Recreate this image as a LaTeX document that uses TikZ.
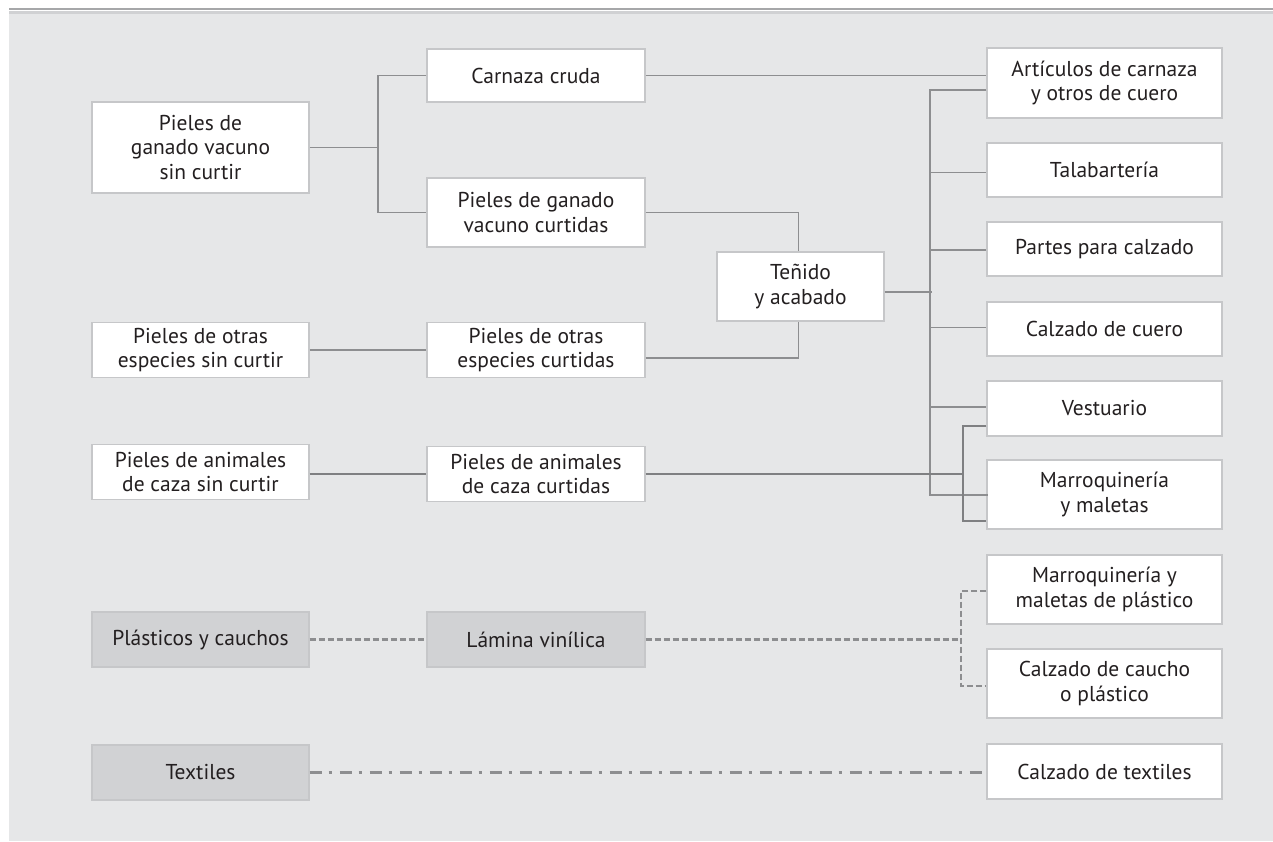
\documentclass[tikz,border=0pt]{standalone}
\usepackage{fontspec}
\setmainfont{PT Sans}
\definecolor{bgc}{HTML}{E6E7E8}
\definecolor{bordc}{HTML}{C6C7C9}
\definecolor{grayfill}{HTML}{D1D2D4}
\definecolor{linec}{HTML}{8D8E90}
\definecolor{thickc}{HTML}{7F8082}
\definecolor{txtc}{HTML}{231F20}
\definecolor{topdark}{HTML}{A6A7A9}
\definecolor{toplight}{HTML}{D0D1D3}
\begin{document}
\begin{tikzpicture}[x=1pt,y=-1pt,
  every node/.style={font=\fontsize{21.5}{24.5}\selectfont, text=txtc, align=center, inner sep=0pt},
  wbox/.style={draw=bordc, line width=1.3pt, fill=white, minimum height=#1},
  wbox/.default=55,
  gbox/.style={draw=bordc, line width=1.3pt, fill=grayfill, minimum height=55},
  lcol/.style={minimum width=217},
  mcol/.style={minimum width=218},
  rcol/.style={minimum width=235},
  thin/.style={draw=linec, line width=1.4pt},
  thick/.style={draw=thickc, line width=2.6pt},
  dsh/.style={draw=linec, line width=2.6pt, dash pattern=on 6pt off 3pt},
  dshdot/.style={draw=linec, line width=2.6pt, dash pattern=on 12pt off 7pt on 3pt off 8pt}
]
\useasboundingbox (0,0) rectangle (1273,841);
% background and top rules
\fill[bgc] (9,11) rectangle (1273,841);
\fill[toplight] (9,11) rectangle (1273,13.5);
\fill[topdark] (9,7.5) rectangle (1273,10);

% left column
\node[wbox=91, lcol] (pgv) at (200.5,147.5) {Pieles de\\ganado vacuno\\sin curtir};
\node[wbox, lcol] (pos) at (200.5,350) {Pieles de otras\\especies sin curtir};
\node[wbox, lcol] (pac) at (200.5,472) {Pieles de animales\\de caza sin curtir};
\node[gbox, lcol] (pyc) at (200.5,639.5) {Plásticos y cauchos};
\node[gbox, lcol] (tex) at (200.5,772.5) {Textiles};

% middle column
\node[wbox=53, mcol] (cc) at (536,75.5) {Carnaza cruda};
\node[wbox=69, mcol] (pgc) at (536,212.5) {Pieles de ganado\\vacuno curtidas};
\node[wbox, mcol] (poc) at (536,350) {Pieles de otras\\especies curtidas};
\node[wbox, mcol] (pacc) at (536,474) {Pieles de animales\\de caza curtidas};
\node[gbox, mcol] (lv) at (536,639.5) {Lámina vinílica};

% dyeing
\node[wbox=69, minimum width=167] (ten) at (800.5,286.5) {Teñido\\y acabado};

% right column
\node[wbox=70, rcol] (art) at (1104.5,83) {Artículos de carnaza\\y otros de cuero};
\node[wbox=54, rcol] (tal) at (1104.5,170) {Talabartería};
\node[wbox=54, rcol] (par) at (1104.5,249) {Partes para calzado};
\node[wbox=54, rcol] (cdc) at (1104.5,329) {Calzado de cuero};
\node[wbox, rcol] (ves) at (1104.5,408.5) {Vestuario};
\node[wbox=69, rcol] (mym) at (1104.5,494.5) {Marroquinería\\y maletas};
\node[wbox=69, rcol] (mmp) at (1104.5,589.5) {Marroquinería y\\maletas de plástico};
\node[wbox=69, rcol] (ccp) at (1104.5,683.5) {Calzado de caucho\\o plástico};
\node[wbox=55, rcol] (cte) at (1104.5,771.5) {Calzado de textiles};

% junction coordinates
\coordinate (j1) at (378,147.5);
\coordinate (tr) at (930,0);
\coordinate (tk) at (963,0);
\coordinate (dj) at (961,0);

% connectors: cattle hides
\draw[thin] (pgv.east) -- (j1);
\draw[thin] (cc.west) -| (j1) |- (pgc.west);
\draw[thin] (cc.east) -- (cc.east -| art.west);
\draw[thin] (pgc.east) -| ([xshift=-2]ten.north);
\draw[thin] (pos.east) -- (poc.west);
\draw[thin] ([yshift=-8]poc.east) -| ([xshift=-2]ten.south);

% trunk
\draw[thin] ([yshift=-5.5]ten.east) -- ([yshift=-5.5,xshift=2]ten.east -| tr);
\draw[thin] ([yshift=-7]art.west) -| (tr |- 0,495) -- ([xshift=2]mym.west |- 0,495);
\draw[thin] (tr |- 0,172.5) -- (tal.west |- 0,172.5);
\draw[thin] (tr |- 0,250) -- (par.west |- 0,250);
\draw[thin] (tr |- 0,327.7) -- (cdc.west |- 0,327.7);
\draw[thin] (tr |- 0,407) -- (ves.west |- 0,407);

% game hides (thick)
\draw[thick] (pac.east |- pacc.west) -- (pacc.west);
\draw[thick] (pacc.east) -- (pacc.east -| tk);
\draw[thick] (ves.west |- 0,426) -| (tk |- 0,521) -- (mym.west |- 0,521);

% plastics (dashed)
\draw[dsh] (pyc.east) -- (lv.west);
\draw[dsh] (lv.east) -- (lv.east -| dj);
\draw[dsh] (mmp.west |- 0,591) -| (dj |- 0,686) -- (ccp.west |- 0,686);

% textiles (dash dot)
\draw[dshdot] (tex.east) -- (tex.east -| cte.west);
\end{tikzpicture}
\end{document}
